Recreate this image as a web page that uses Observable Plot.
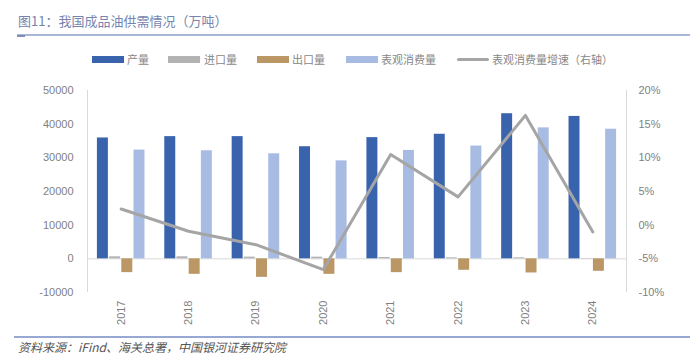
<!DOCTYPE html>
<html><head><meta charset="utf-8">
<script src="https://cdn.jsdelivr.net/npm/d3@7"></script>
<script src="https://cdn.jsdelivr.net/npm/@observablehq/plot@0.6"></script>
<style>
body{margin:0;background:#fff;width:690px;height:356px;position:relative;overflow:hidden;font-family:"Liberation Sans","Noto Sans CJK SC",sans-serif;}
#title{position:absolute;left:18px;top:12px;font-size:13px;line-height:18px;color:#7585b0;font-family:"Noto Sans CJK SC",sans-serif;}
#tline{position:absolute;left:17px;top:34px;width:673px;height:2px;background:#aab6d6;}
#tmark{position:absolute;left:17px;top:35px;width:8px;height:2px;background:#7f8fb8;}
#legend{position:absolute;left:0;top:51px;width:690px;height:16px;font-size:11px;color:#888;font-family:"Noto Sans CJK SC",sans-serif;}
.sw{position:absolute;top:5px;width:32px;height:7px;}
.ln{position:absolute;top:7px;width:32px;height:3px;background:#a5a5a5;border-radius:2px;}
.lt{position:absolute;top:0;line-height:16px;}
#chart{position:absolute;left:0;top:75px;}
#bline{position:absolute;left:14px;top:336px;width:676px;height:2px;background:#97a8d2;}
#caption{position:absolute;left:18px;top:340px;font-size:12px;line-height:14px;color:#555;font-style:italic;font-family:"Noto Sans CJK SC",sans-serif;white-space:nowrap;}
</style></head><body>
<div id="title">图11：我国成品油供需情况（万吨）</div>
<div id="tline"></div><div id="tmark"></div>
<div id="legend"></div>
<div id="chart"></div>
<div id="bline"></div>
<div id="caption">资料来源：iFind、海关总署，中国银河证券研究院</div>
<script>
const years = ["2017","2018","2019","2020","2021","2022","2023","2024"];
const production = [35900, 36300, 36300, 33300, 36000, 37000, 43100, 42300];
const imports = [600, 600, 500, 500, 400, 300, 300, 100];
const exportsV = [-4100, -4600, -5500, -4600, -4100, -3400, -4200, -3700];
const consumption = [32300, 32100, 31200, 29100, 32200, 33500, 38900, 38500];
const growth = [2.4, -0.9, -2.9, -6.6, 10.5, 4.2, 16.3, -1.0];
const leftTicks = [-10000, 0, 10000, 20000, 30000, 40000, 50000];
const rightTicks = [-10, -5, 0, 5, 10, 15, 20];
const seriesNames = ["产量", "进口量", "出口量", "表观消费量"];
const lineName = "表观消费量增速（右轴）";
const colors = ["#3a63ae", "#b3b3b3", "#bb9765", "#a8bce3"];
const lineColor = "#a5a5a5";

const seriesValues = [production, imports, exportsV, consumption];
const rows = [];
seriesValues.forEach((vals, k) => vals.forEach((v, i) => rows.push({i, k, v})));

const step = 0.181, bw = 0.163;
const toRight = p => p * 2000 + 10000;

const chart = Plot.plot({
  width: 690, height: 260,
  marginTop: 15, marginBottom: 43, marginLeft: 87, marginRight: 64,
  x: {domain: [0, 8]},
  y: {domain: [-10000, 50000]},
  style: {fontFamily: '"Liberation Sans", sans-serif', fontSize: "11px", color: "#7f7f7f", background: "transparent"},
  marks: [
    Plot.ruleX([0, 8], {y1: -10000, y2: 50000, stroke: "#d9d9d9"}),
    Plot.ruleY([0], {stroke: "#d9d9d9"}),
    Plot.rectY(rows, {
      x1: d => d.i + 0.5 + (d.k - 1.5) * step - bw / 2,
      x2: d => d.i + 0.5 + (d.k - 1.5) * step + bw / 2,
      y1: 0, y2: d => d.v,
      fill: d => colors[d.k]
    }),
    Plot.line(growth, {x: (d, i) => i + 0.5, y: d => toRight(d), stroke: lineColor, strokeWidth: 3}),
    Plot.axisY(leftTicks, {anchor: "left", tickSize: 0, tickPadding: 14, tickFormat: d => String(d), label: null}),
    Plot.axisY(rightTicks.map(toRight), {anchor: "right", tickSize: 0, tickPadding: 12, tickFormat: d => ((d - 10000) / 2000) + "%", label: null}),
    Plot.axisX(years.map((_, i) => i + 0.5), {anchor: "bottom", tickSize: 0, tickPadding: 8, tickRotate: -90, tickFormat: d => years[Math.floor(d)], label: null})
  ]
});
document.getElementById("chart").appendChild(chart);

const legend = document.getElementById("legend");
const pos = [[92, 127], [168, 204], [257, 292], [346, 381]];
seriesNames.forEach((n, k) => {
  const s = document.createElement("div"); s.className = "sw"; s.style.left = pos[k][0] + "px"; s.style.background = colors[k]; legend.appendChild(s);
  const t = document.createElement("div"); t.className = "lt"; t.style.left = pos[k][1] + "px"; t.textContent = n; legend.appendChild(t);
});
const l = document.createElement("div"); l.className = "ln"; l.style.left = "457px"; legend.appendChild(l);
const lt = document.createElement("div"); lt.className = "lt"; lt.style.left = "492px"; lt.textContent = lineName; legend.appendChild(lt);
</script>
</body></html>
